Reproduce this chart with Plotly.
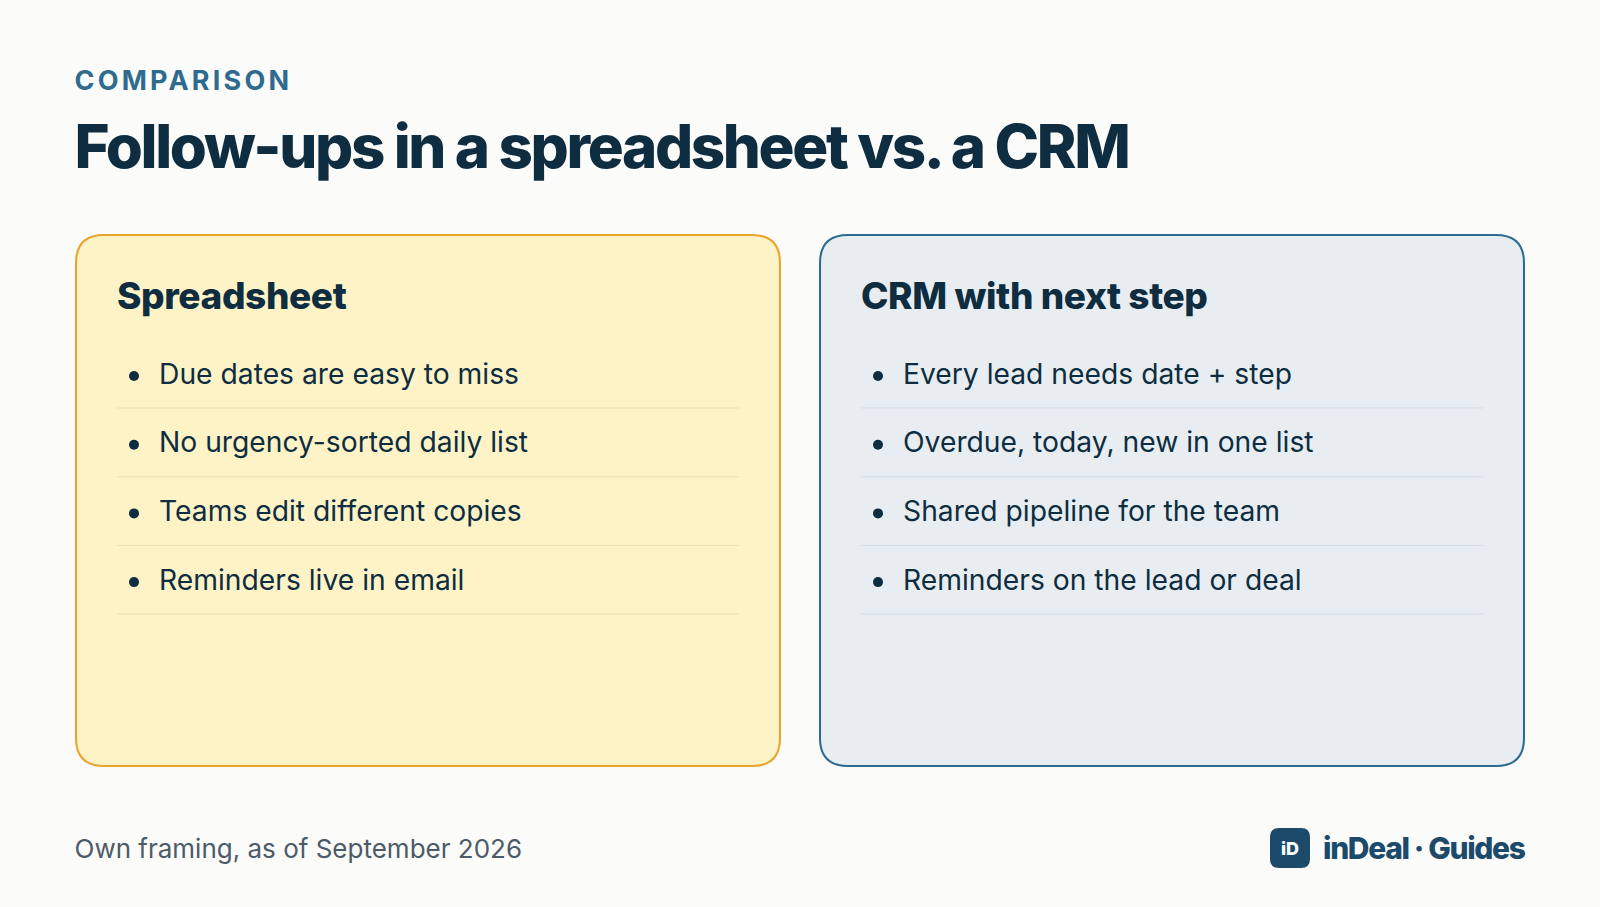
import json
import plotly.graph_objects as go

EYEBROW = "COMPARISON"
TITLE = "Follow-ups in a spreadsheet vs. a CRM"
CARD_TITLES = ["Spreadsheet", "CRM with next step"]
LEFT_ITEMS = ["Due dates are easy to miss", "No urgency-sorted daily list",
              "Teams edit different copies", "Reminders live in email"]
RIGHT_ITEMS = ["Every lead needs date + step", "Overdue, today, new in one list",
               "Shared pipeline for the team", "Reminders on the lead or deal"]
FOOTNOTE = "Own framing, as of September 2026"
BRAND = "inDeal · Guides"
LOGO = "iD"

INK = "#0f2d40"
FONT = "Inter, sans-serif"
W, H = 1600, 907


def rounded(x0, y0, x1, y1, r):
    return (f"M{x0+r},{y0} L{x1-r},{y0} Q{x1},{y0} {x1},{y0+r} L{x1},{y1-r} Q{x1},{y1} {x1-r},{y1} "
            f"L{x0+r},{y1} Q{x0},{y1} {x0},{y1-r} L{x0},{y0+r} Q{x0},{y0} {x0+r},{y0} Z")


def label(fig, x, y, text, size, color, weight=400, pos="middle right"):
    fig.add_trace(go.Scatter(x=[x], y=[y], mode="text", text=[text], textposition=pos,
                             textfont=dict(family=FONT, size=size, color=color, weight=weight),
                             cliponaxis=False, showlegend=False, hoverinfo="skip"))


fig = go.Figure()
shapes = []
cards = [
    (76, 780, "#fef3c7", "#e9a42c", "#e9dfba", CARD_TITLES[0], LEFT_ITEMS),
    (820, 1524, "#e8edf2", "#2f6b8f", "#d5dde3", CARD_TITLES[1], RIGHT_ITEMS),
]
for x0, x1, fill, edge, rule, head, items in cards:
    shapes.append(dict(type="path", path=rounded(x0, 235, x1, 766, 28), fillcolor=fill,
                       line=dict(color=edge, width=2), layer="below"))
    label(fig, x0 + 41, 299.5, head, 37, INK, 800)
    bx, by = [], []
    for i, item in enumerate(items):
        y = 376.5 + i * 68.7
        bx.append(x0 + 58)
        by.append(y - 0.5)
        label(fig, x0 + 83, y, item, 28.25, INK, 400)
        ly = 408 + i * 68.7
        shapes.append(dict(type="line", x0=x0 + 41, x1=x1 - 41, y0=ly, y1=ly,
                           line=dict(color=rule, width=1), layer="below"))
    fig.add_trace(go.Scatter(x=bx, y=by, mode="markers", showlegend=False, hoverinfo="skip",
                             marker=dict(size=10, color=INK, line=dict(width=0))))

label(fig, 74.5, 83, EYEBROW, 27, "#2f6b8f", 700)
label(fig, 74.5, 153, TITLE, 60, INK, 800)
label(fig, 74.5, 851, FOOTNOTE, 26, "#4d5a68", 400)

shapes.append(dict(type="path", path=rounded(1270, 828, 1310, 868, 9), fillcolor="#1b4a6b",
                   line=dict(width=0), layer="below"))
label(fig, 1290, 850, LOGO, 18, "#ffffff", 800, pos="middle center")
label(fig, 1323, 851, BRAND, 30, "#1b4a6b", 800)

fig.update_layout(width=W, height=H, margin=dict(l=0, r=0, t=0, b=0), paper_bgcolor="#fbfbfa",
                  plot_bgcolor="#fbfbfa", shapes=shapes, showlegend=False, hovermode=False,
                  xaxis=dict(range=[0, W], visible=False, fixedrange=True),
                  yaxis=dict(range=[H, 0], visible=False, fixedrange=True))

# plotly has no letter spacing attribute, so it goes on the svg text after drawing
spacing = {EYEBROW: "3.2px", TITLE: "-2.36px", BRAND: "-1.35px",
           CARD_TITLES[0]: "-0.4px", CARD_TITLES[1]: "-0.4px"}
post = ("document.body.style.margin='0';document.body.style.overflow='hidden';"
        f"var sp={json.dumps(spacing)};"
        "document.querySelectorAll('.textpoint text').forEach(function(t){"
        "if(sp[t.textContent]){t.style.letterSpacing=sp[t.textContent];}});")
fig.write_html("out.html", post_script=post, config=dict(displayModeBar=False))
